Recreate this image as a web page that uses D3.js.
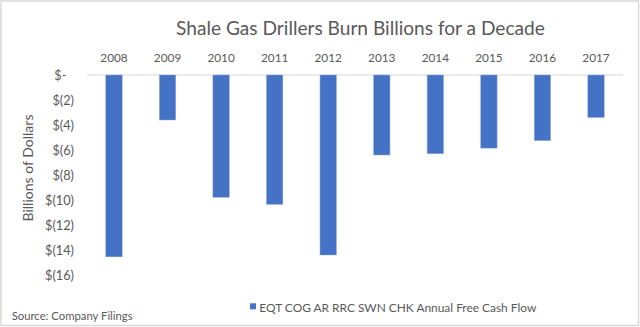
<!DOCTYPE html>
<html>
<head>
<meta charset="utf-8">
<script src="https://cdn.jsdelivr.net/npm/d3@7"></script>
<style>
  html, body { margin: 0; padding: 0; background: #fff; }
  svg { display: block; }
  text { font-family: Lato, "Open Sans", sans-serif; fill: #595959; }
</style>
</head>
<body>
<svg id="chart" width="640" height="327"></svg>
<script>
const years = ["2008","2009","2010","2011","2012","2013","2014","2015","2016","2017"];
const freeCashFlow = [-14.55, -3.6, -9.78, -10.35, -14.4, -6.4, -6.3, -5.85, -5.25, -3.4];
const yTicks = [0, -2, -4, -6, -8, -10, -12, -14, -16];
const titleText = "Shale Gas Drillers Burn Billions for a Decade";
const yAxisTitle = "Billions of Dollars";
const sourceText = "Source: Company Filings";
const legendText = "EQT COG AR RRC SWN CHK Annual Free Cash Flow";

const svg = d3.select("#chart");
const W = 640, H = 327;

// outer border
svg.append("rect").attr("x", 1).attr("y", 1).attr("width", W - 2.5).attr("height", H - 2.5)
  .attr("fill", "#fff").attr("stroke", "#d9d9d9").attr("stroke-width", 1.5);

const x = d3.scaleBand().domain(years).range([87.2, 622.8]).paddingInner(0.694).paddingOuter(0.347);
const y = d3.scaleLinear().domain([-16, 0]).range([275, 75]);

function fit(sel, target) {
  const node = sel.node();
  const w = node.getComputedTextLength();
  const fs = parseFloat(sel.attr("font-size"));
  if (w > 0) sel.attr("font-size", (fs * target / w).toFixed(2));
}

// title
const t = svg.append("text").attr("x", 360.5).attr("y", 35).attr("text-anchor", "middle")
  .attr("font-size", 18).text(titleText);
fit(t, 369);

// zero line (top gridline)
svg.append("line").attr("x1", 87).attr("x2", 623).attr("y1", y(0)).attr("y2", y(0))
  .attr("stroke", "#d9d9d9").attr("stroke-width", 1.2);

// bars
svg.append("g").selectAll("rect").data(years).join("rect")
  .attr("x", d => x(d))
  .attr("width", x.bandwidth())
  .attr("y", y(0))
  .attr("height", (d, i) => y(freeCashFlow[i]) - y(0))
  .attr("fill", "#4472C4")
  .attr("stroke", "#8fa9dc").attr("stroke-width", 0.5);

// x axis labels (top)
const xAxis = d3.axisTop(x).tickSize(0).tickPadding(0);
const gx = svg.append("g").attr("transform", "translate(0,61.5)").call(xAxis);
gx.select(".domain").remove();
gx.selectAll("text").attr("font-size", 12.5).attr("fill", "#595959")
  .style("font-family", "Lato, 'Open Sans', sans-serif").attr("dy", 0)
  .each(function() { fit(d3.select(this), 27.4); });

// y axis labels
const fmt = v => v === 0 ? "$-" : "$(" + Math.abs(v) + ")";
const yAxis = d3.axisLeft(y).tickValues(yTicks).tickFormat(fmt).tickSize(0).tickPadding(0);
const gy = svg.append("g").attr("transform", "translate(74,0)").call(yAxis);
gy.select(".domain").remove();
const yLabels = gy.selectAll("text").attr("font-size", 13).attr("fill", "#595959")
  .style("font-family", "Lato, 'Open Sans', sans-serif")
  .attr("x", d => d === 0 ? -7.5 : 0)
  .attr("dy", "0.35em");
// scale all tick labels so "$(16)" is ~29px wide
const ref = yLabels.filter(d => d === -16);
const refW = ref.node().getComputedTextLength();
if (refW > 0) yLabels.attr("font-size", (13 * 29 / refW).toFixed(2));

// y axis title
const yt = svg.append("text").attr("transform", "translate(33,168) rotate(-90)")
  .attr("text-anchor", "middle").attr("font-size", 13).text(yAxisTitle);
fit(yt, 107);

// source
const s = svg.append("text").attr("x", 11.7).attr("y", 320).attr("font-size", 12).text(sourceText);
fit(s, 121);

// legend
svg.append("rect").attr("x", 250).attr("y", 303.3).attr("width", 6).attr("height", 6).attr("fill", "#4472C4");
const lg = svg.append("text").attr("x", 259.3).attr("y", 311.5).attr("font-size", 13).text(legendText);
fit(lg, 277);
</script>
</body>
</html>
